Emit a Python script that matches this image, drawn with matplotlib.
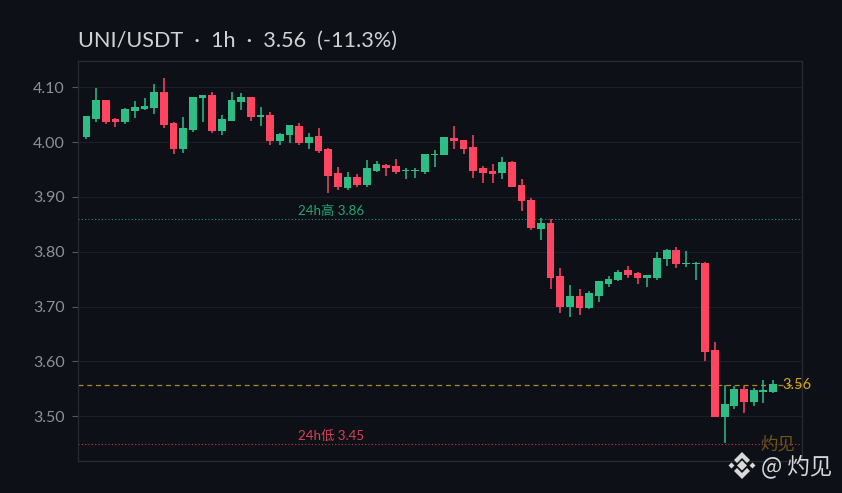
import matplotlib
matplotlib.use('Agg')
import matplotlib.pyplot as plt
from matplotlib.patches import Polygon

# UNI/USDT 1h candles
opens = [4.010, 4.042, 4.077, 4.042, 4.037, 4.057, 4.061, 4.062, 4.092, 4.035, 3.988, 4.022,
         4.081, 4.086, 4.021, 4.039, 4.073, 4.082, 4.046, 4.050, 4.002, 4.013, 4.030, 3.999,
         4.012, 3.988, 3.944, 3.917, 3.937, 3.921, 3.948, 3.959, 3.957, 3.947, 3.947, 3.946,
         3.976, 3.977, 4.008, 4.004, 3.992, 3.952, 3.948, 3.944, 3.964, 3.922, 3.895, 3.842,
         3.852, 3.755, 3.700, 3.719, 3.697, 3.720, 3.742, 3.748, 3.766, 3.762, 3.753, 3.753,
         3.786, 3.804, 3.777, 3.777, 3.780, 3.620, 3.499, 3.519, 3.550, 3.526, 3.545, 3.544]
closes = [4.048, 4.077, 4.037, 4.037, 4.061, 4.064, 4.066, 4.092, 4.032, 3.988, 4.026, 4.082,
          4.086, 4.021, 4.042, 4.077, 4.082, 4.046, 4.050, 4.002, 4.015, 4.032, 3.999, 4.010,
          3.984, 3.939, 3.919, 3.937, 3.921, 3.952, 3.961, 3.952, 3.946, 3.950, 3.950, 3.979,
          3.979, 4.010, 4.002, 3.988, 3.948, 3.944, 3.942, 3.964, 3.919, 3.893, 3.844, 3.852,
          3.752, 3.700, 3.719, 3.698, 3.724, 3.746, 3.751, 3.764, 3.758, 3.753, 3.757, 3.788,
          3.804, 3.777, 3.780, 3.780, 3.618, 3.499, 3.522, 3.550, 3.526, 3.548, 3.548, 3.559]
highs = [4.048, 4.098, 4.077, 4.044, 4.062, 4.075, 4.081, 4.106, 4.117, 4.037, 4.046, 4.082,
         4.086, 4.092, 4.050, 4.092, 4.090, 4.082, 4.065, 4.055, 4.017, 4.032, 4.035, 4.017,
         4.026, 3.990, 3.955, 3.946, 3.942, 3.968, 3.966, 3.961, 3.970, 3.952, 3.953, 3.979,
         3.986, 4.010, 4.030, 4.004, 4.013, 3.957, 3.961, 3.973, 3.966, 3.933, 3.899, 3.861,
         3.859, 3.770, 3.739, 3.732, 3.728, 3.746, 3.755, 3.766, 3.775, 3.764, 3.757, 3.799,
         3.806, 3.808, 3.802, 3.782, 3.782, 3.635, 3.557, 3.555, 3.555, 3.552, 3.566, 3.566]
lows = [4.006, 4.037, 4.033, 4.028, 4.033, 4.044, 4.059, 4.052, 4.026, 3.979, 3.981, 4.019,
        4.037, 4.017, 4.013, 4.038, 4.059, 4.039, 4.030, 3.995, 3.995, 3.999, 3.995, 3.988,
        3.981, 3.908, 3.912, 3.912, 3.919, 3.919, 3.946, 3.939, 3.942, 3.932, 3.935, 3.942,
        3.955, 3.976, 3.988, 3.979, 3.935, 3.926, 3.926, 3.933, 3.919, 3.875, 3.839, 3.821,
        3.733, 3.688, 3.681, 3.685, 3.695, 3.709, 3.735, 3.746, 3.753, 3.742, 3.735, 3.749,
        3.775, 3.771, 3.773, 3.748, 3.601, 3.499, 3.452, 3.513, 3.506, 3.519, 3.524, 3.542]
y_ticks = [3.50, 3.60, 3.70, 3.80, 3.90, 4.00, 4.10]
high_24h = 3.86
low_24h = 3.45
last_price = 3.557

W, H = 842, 493
BG = '#0d1117'
GREEN = '#2dbd85'
RED = '#ff4560'
FONT = ['Lato', 'Noto Sans CJK SC', 'DejaVu Sans']
CJK = ['Noto Sans CJK SC', 'DejaVu Sans']


def fx(px):
    return px / W


def fy(py):
    return 1 - py / H


fig = plt.figure(figsize=(W / 100, H / 100), dpi=100, facecolor=BG)
ax = fig.add_axes([fx(77.5), fy(461), (802 - 77.5) / W, (461 - 60.5) / H], facecolor=BG)

for i in range(len(opens)):
    color = GREEN if closes[i] >= opens[i] else RED
    ax.vlines(i, lows[i], highs[i], color=color, lw=1.1, zorder=3)
    ax.bar(i, abs(closes[i] - opens[i]), bottom=min(opens[i], closes[i]), width=0.8,
           color=color, lw=0, zorder=4)

ax.axhline(high_24h, color=GREEN, lw=0.8, ls=(0, (1, 2)), alpha=0.75, zorder=2)
ax.axhline(low_24h, color=RED, lw=0.8, ls=(0, (1, 2)), alpha=0.75, zorder=2)
ax.axhline(last_price, color='#c9a227', lw=0.9, ls=(0, (4, 3)), alpha=0.85, zorder=2)

ax.set_xlim(-0.93, 74.0)
ax.set_ylim(3.4184, 4.149)
ax.set_xticks([])
ax.set_yticks(y_ticks)
ax.set_yticklabels([f'{v:.2f}' for v in y_ticks], fontsize=11.5, color='#8b8f96', family=FONT)
ax.tick_params(axis='y', length=4, width=0.8, color='#55585f', pad=5)
ax.grid(axis='y', color='#1a1e26', lw=0.9)
ax.set_axisbelow(True)
for s in ax.spines.values():
    s.set_color('#262a33')
    s.set_linewidth(0.9)

ax.text(21.9, high_24h + 0.003, '24h高 3.86', color=GREEN, fontsize=9.6, family=FONT,
        ha='left', va='bottom', alpha=0.85)
ax.text(21.9, low_24h + 0.003, '24h低 3.45', color=RED, fontsize=9.6, family=FONT,
        ha='left', va='bottom', alpha=0.85)

fig.text(fx(78), fy(41), 'UNI/USDT  ·  1h  ·  3.56  (-11.3%)', color='#d0d2d5', fontsize=15.6,
         family=FONT, va='center')
fig.text(fx(782), fy(385), '3.56', color='#d9a520', fontsize=10.5, family=FONT, va='center')

# watermarks
fig.text(fx(760), fy(444.5), '灼见', color='#6d5518', fontsize=12.5, family=CJK, va='center')
fig.text(fx(761), fy(466), '@ 灼见', color='#d8d8d8', fontsize=16.2, family=CJK, va='center')

# logo
LOGO = '#d8d8d8'
cx, cy = 742, 465.5
shapes = [
    [(0, -5), (5, 0), (0, 5), (-5, 0)],
    [(-8, -5.5), (0, -13.5), (8, -5.5), (5, -2.5), (0, -7.5), (-5, -2.5)],
    [(-8, 5.5), (0, 13.5), (8, 5.5), (5, 2.5), (0, 7.5), (-5, 2.5)],
    [(-13.5, 0), (-10.5, -3), (-7.5, 0), (-10.5, 3)],
    [(13.5, 0), (10.5, -3), (7.5, 0), (10.5, 3)],
]
for pts in shapes:
    fig.add_artist(Polygon([(fx(cx + a), fy(cy + b)) for a, b in pts], closed=True, fc=LOGO, ec='none',
                           transform=fig.transFigure))

fig.savefig('out.png', dpi=100, facecolor=BG)
